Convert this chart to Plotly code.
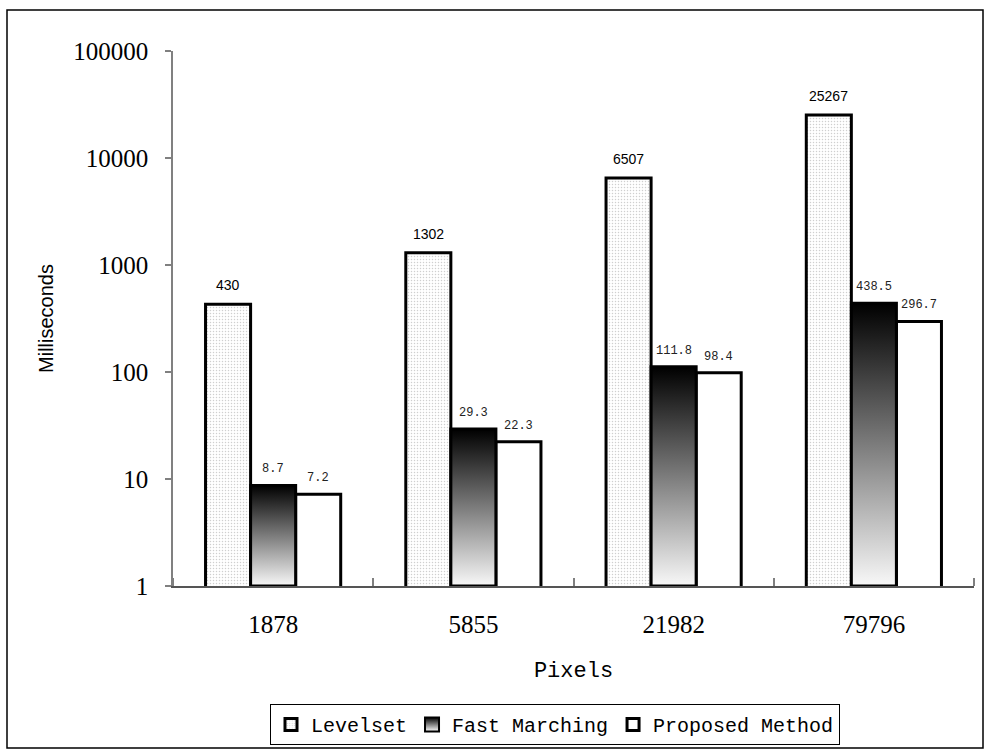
import math
import plotly.graph_objects as go

categories = ["1878", "5855", "21982", "79796"]
levelset = [430, 1302, 6507, 25267]
fast_marching = [8.7, 29.3, 111.8, 438.5]
proposed = [7.2, 22.3, 98.4, 296.7]
series_names = ["Levelset", "Fast Marching", "Proposed Method"]
y_tickvals = [1, 10, 100, 1000, 10000, 100000]
y_ticktext = ["1", "10", "100", "1000", "10000", "100000"]

L, R, T, B = 173, 10, 51, 163
W, H = 984, 749
pw, ph = W - L - R, H - T - B
BARGAP = 0.325
BW = (1 - BARGAP) / 3
xs = list(range(len(categories)))

mono = "Liberation Mono"
serif = "Liberation Serif"
sans = "Liberation Sans"
OUT = 3

fig = go.Figure()
fig.add_trace(go.Bar(
    x=xs, y=levelset, name=series_names[0], legendrank=1,
    marker=dict(color="white", line=dict(color="black", width=OUT),
                pattern=dict(shape=".", fgcolor="#a0a0a0", bgcolor="white", size=3, solidity=0.2)),
))
fig.add_trace(go.Bar(
    x=xs, y=fast_marching, name=series_names[1], showlegend=False,
    marker=dict(color="rgba(0,0,0,0)", line=dict(width=0)),
))
fig.add_trace(go.Bar(
    x=xs, y=proposed, name=series_names[2], legendrank=3,
    marker=dict(color="white", line=dict(color="black", width=OUT)),
))
for i, v in zip(xs, fast_marching):
    x0, x1 = i - BW / 2, i + BW / 2
    fig.add_trace(go.Scatter(
        x=[x0, x1, x1, x0, x0], y=[1, 1, v, v, 1], mode="lines",
        fill="toself", showlegend=False, hoverinfo="skip",
        line=dict(color="black", width=OUT),
        fillgradient=dict(type="vertical", colorscale=[[0, "#f8f8f8"], [1, "#000000"]]),
    ))
fig.add_trace(go.Scatter(
    x=[None], y=[None], mode="markers", name=series_names[1], legendrank=2,
    marker=dict(symbol="square", size=14, color="black",
                gradient=dict(type="vertical", color="white"),
                line=dict(color="black", width=2)),
))

ann = []
for i in xs:
    ann.append(dict(x=i - BW, y=math.log10(levelset[i]), text=str(levelset[i]), showarrow=False,
                    yanchor="bottom", yshift=9, font=dict(family=sans, size=14, color="black")))
    ann.append(dict(x=i, y=math.log10(fast_marching[i]), text=f"{fast_marching[i]}", showarrow=False,
                    yanchor="bottom", yshift=7, font=dict(family=mono, size=12, color="#222")))
    ann.append(dict(x=i + BW, y=math.log10(proposed[i]), text=f"{proposed[i]}", showarrow=False,
                    yanchor="bottom", yshift=7, font=dict(family=mono, size=12, color="#222")))

fig.update_layout(
    width=W, height=H, margin=dict(l=L, r=R, t=T, b=B, autoexpand=False),
    paper_bgcolor="white", plot_bgcolor="white",
    barmode="group", bargap=BARGAP, bargroupgap=0,
    annotations=ann,
    showlegend=True,
    legend=dict(orientation="h", x=(270 - L) / pw, xanchor="left",
                y=-(704 - (H - B)) / ph, yanchor="top",
                font=dict(family=mono, size=20, color="black"),
                bordercolor="black", borderwidth=1, bgcolor="white",
                itemwidth=30, traceorder="normal"),
    shapes=[dict(type="rect", xref="paper", yref="paper",
                 x0=-(L - 7) / pw, x1=(983 - L) / pw,
                 y0=-(748 - (H - B)) / ph, y1=(H - B - 10) / ph,
                 line=dict(color="black", width=1.5), fillcolor="rgba(0,0,0,0)", layer="below")],
)
fig.update_xaxes(
    range=[-0.5, 3.5], tickvals=xs, ticktext=categories, ticks="", showgrid=False,
    zeroline=False, showline=True, linecolor="#555", linewidth=2,
    tickfont=dict(family=serif, size=25, color="black"), ticklabelstandoff=15,
    minor=dict(tickvals=[-0.5, 0.5, 1.5, 2.5, 3.5], ticks="inside", ticklen=8,
               tickcolor="#808080", tickwidth=2, showgrid=False),
    title=dict(text="Pixels", font=dict(family=mono, size=22, color="black"), standoff=25),
)
fig.update_yaxes(
    type="log", range=[0, 5], tickvals=y_tickvals, ticktext=y_ticktext,
    ticks="outside", ticklen=6, tickcolor="#808080", tickwidth=1.5,
    showline=True, linecolor="#808080", linewidth=1.5, showgrid=False, zeroline=False,
    tickfont=dict(family=serif, size=25, color="black"), ticklabelstandoff=12,
    title=dict(text="Milliseconds", font=dict(family=sans, size=20, color="black"), standoff=14),
)

fig.write_html("out.html", config={"displayModeBar": False},
               post_script="document.body.style.margin='0';")
